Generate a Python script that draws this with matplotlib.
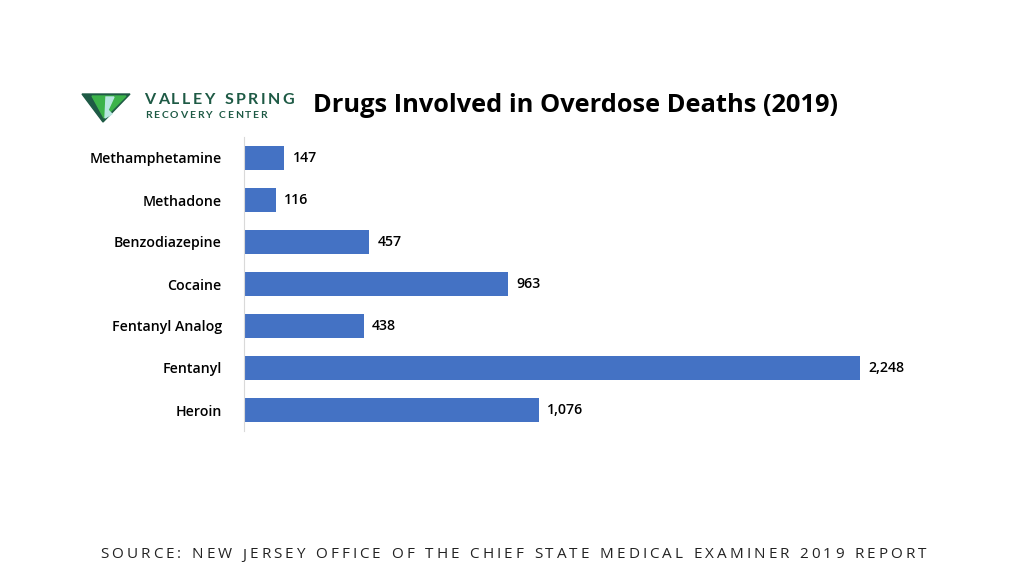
import matplotlib
matplotlib.use("Agg")
import matplotlib.pyplot as plt
from matplotlib.patches import Polygon

categories = ["Methamphetamine", "Methadone", "Benzodiazepine", "Cocaine", "Fentanyl Analog", "Fentanyl", "Heroin"]
values = [147, 116, 457, 963, 438, 2248, 1076]
labels = ["147", "116", "457", "963", "438", "2,248", "1,076"]
source = "SOURCE: NEW JERSEY OFFICE OF THE CHIEF STATE MEDICAL EXAMINER 2019 REPORT"

W, H = 1024, 576
fig = plt.figure(figsize=(W/100, H/100), dpi=100)
fig.patch.set_facecolor("white")
ax = fig.add_axes([244/W, 1-431/H, (860-244)/W, (431-137)/H])
y = list(range(len(categories)))
ax.barh(y, values, height=0.57, color="#4472C4")
ax.set_xlim(0, 2248)
ax.set_ylim(len(categories)-0.5, -0.5)
ax.set_yticks(y)
ax.set_yticklabels(categories, fontsize=10.2, family="Open Sans", fontweight="semibold")
ax.tick_params(axis="y", length=0, pad=16)
ax.set_xticks([])
for s in ["top", "right", "bottom"]:
    ax.spines[s].set_visible(False)
ax.spines["left"].set_color("#d9d9d9")
for yi, v, l in zip(y, values, labels):
    ax.text(v + 30, yi, l, va="center", ha="left", fontsize=10.2, family="Open Sans", fontweight="semibold", clip_on=False)

fig.text(313/W, 1-106/H, "Drugs Involved in Overdose Deaths (2019)", fontsize=18.3, fontweight="bold",
         family="Open Sans", va="center", ha="left")
lx = fig.add_axes([0, 0, 1, 1], zorder=-1)
lx.set_xlim(0, W); lx.set_ylim(H, 0); lx.axis("off")
lx.add_patch(Polygon([(82, 94), (130, 94), (103, 122)], color="#1e5a45"))
lx.add_patch(Polygon([(92, 96), (126, 96), (104, 118)], color="#3cb34a"))
lx.add_patch(Polygon([(106, 97), (114, 97), (108, 110), (112, 114), (105, 118)], color="#b8e6e0"))

def spaced(text, x0, x1, yc, **kw):
    r = fig.canvas.get_renderer()
    ws = []
    for ch in text:
        t = fig.text(0, 0, ch if ch != " " else "n", **kw)
        ws.append(t.get_window_extent(r).width if ch != " " else t.get_window_extent(r).width * 0.5)
        t.remove()
    gap = ((x1 - x0) - sum(ws)) / (len(text) - 1)
    x = x0
    for ch, w in zip(text, ws):
        fig.text(x/W, 1-yc/H, ch, va="center", ha="left", **kw)
        x += w + gap

spaced("VALLEY SPRING", 144, 294, 100, fontsize=11.5, fontweight="bold", color="#1e5a45", family="Lato")
spaced("RECOVERY CENTER", 145, 267, 116, fontsize=7.5, fontweight="bold", color="#1e5a45", family="Lato")
spaced(source, 100, 926, 555, fontsize=11, family="Open Sans", color="#222222")
fig.savefig("out.png", dpi=100)
